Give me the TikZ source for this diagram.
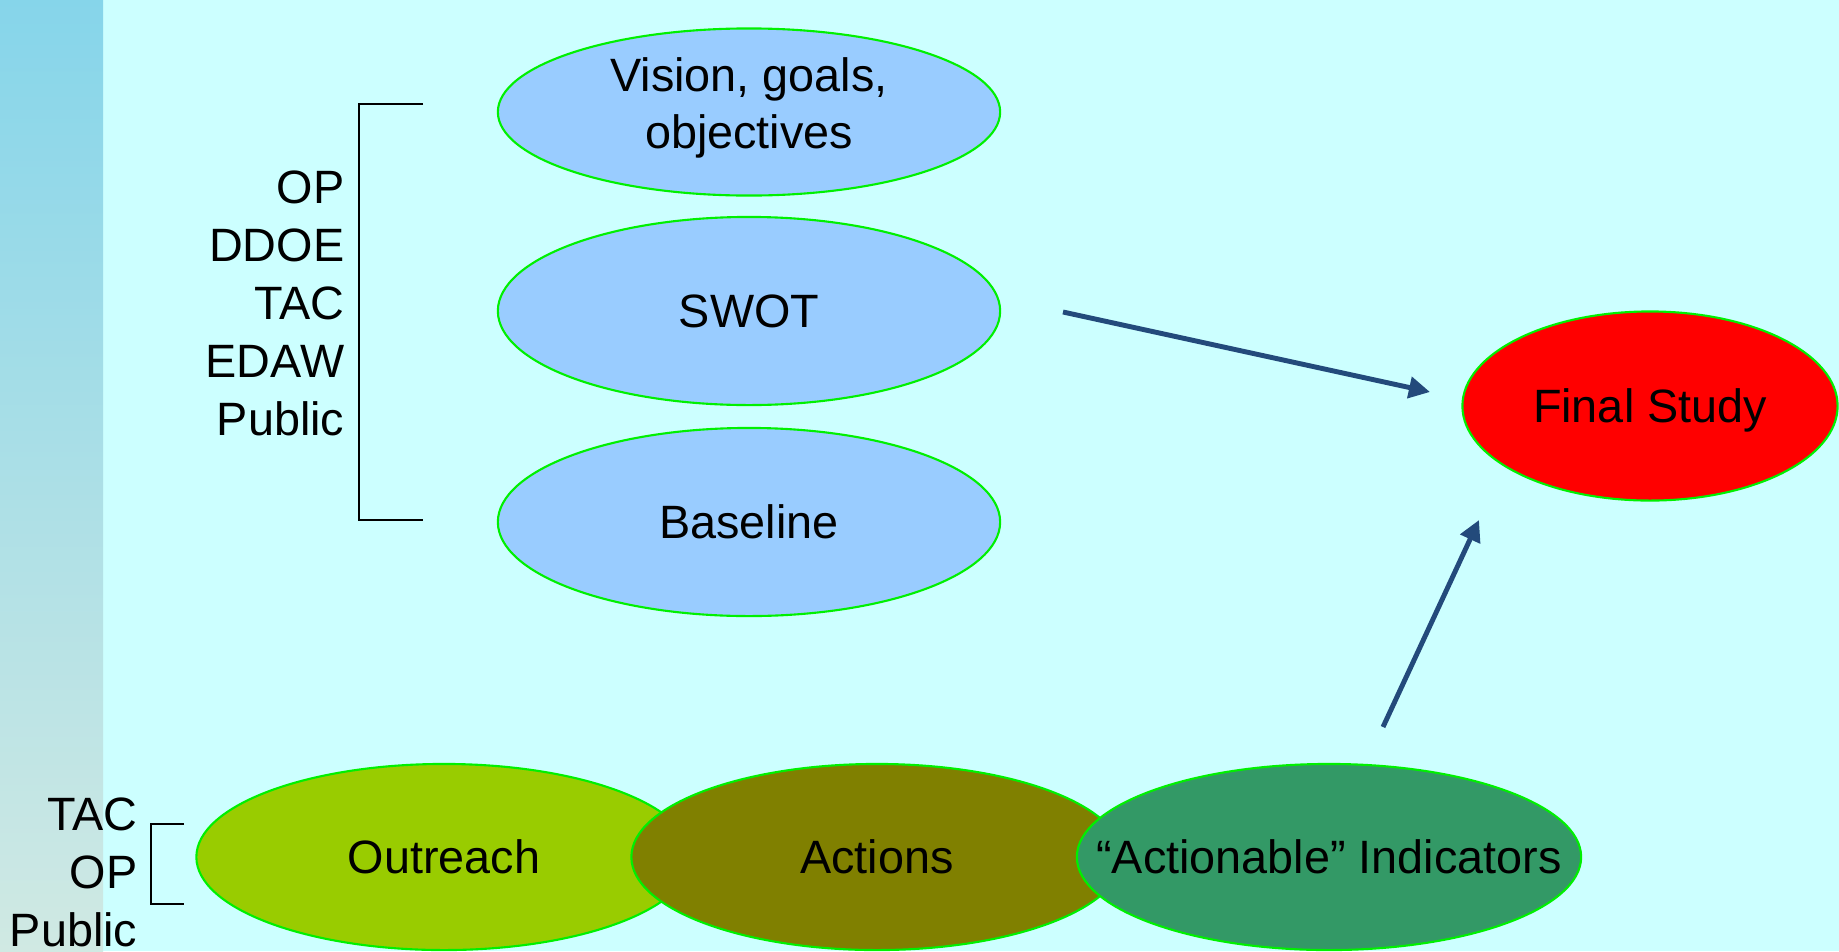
\documentclass[tikz,border=0pt]{standalone}
\usepackage{fontspec}
\setmainfont{Liberation Sans}
\usepackage{xcolor}
\usetikzlibrary{shapes.geometric,arrows.meta}
\definecolor{bgcyan}{HTML}{CCFFFF}
\definecolor{striptop}{HTML}{86D5EA}
\definecolor{stripbot}{HTML}{D0E9E3}
\definecolor{rimgreen}{HTML}{00F000}
\definecolor{skyblue}{HTML}{99CCFF}
\definecolor{limegreen}{HTML}{99CC00}
\definecolor{olivebrown}{HTML}{808000}
\definecolor{seagreen}{HTML}{339966}
\definecolor{arrowblue}{HTML}{234A7B}

\begin{document}
\begin{tikzpicture}[x=0.01cm,y=-0.01cm,
    blob/.style={ellipse,draw=rimgreen,line width=0.6pt,inner sep=0pt},
    txt/.style={font=\fontsize{13.3}{16.5}\selectfont,inner sep=0pt},
    lab/.style={txt,text depth=0pt},
    link/.style={-{Triangle[length=6pt,width=6pt]},line width=1.4pt,arrowblue}]
    \useasboundingbox (0,0) rectangle (1839,951);
    \fill[bgcyan] (0,0) rectangle (1839,951);
    \shade[top color=striptop,bottom color=stripbot] (0,0) rectangle (103,951);

    \node[blob,fill=skyblue,minimum width=5.02cm,minimum height=1.67cm,
      label={[txt,align=center,font=\fontsize{13.3}{16}\selectfont,yshift=1.2pt]center:Vision, goals,\\objectives}] (vis) at (749,112) {};
    \node[blob,fill=skyblue,minimum width=5.02cm,minimum height=1.88cm,
      label={[lab]center:SWOT}] (swot) at (749,311) {};
    \node[blob,fill=skyblue,minimum width=5.02cm,minimum height=1.88cm,
      label={[lab]center:Baseline}] (base) at (749,522) {};
    \node[blob,fill=red,minimum width=3.75cm,minimum height=1.89cm,
      label={[lab]center:Final Study}] (final) at (1650,406) {};

    \node[blob,fill=limegreen,minimum width=4.95cm,minimum height=1.86cm,
      label={[lab]center:Outreach}] (out) at (444,857) {};
    \node[blob,fill=olivebrown,minimum width=4.91cm,minimum height=1.86cm,
      label={[lab]center:Actions}] (act) at (877,857) {};
    \node[blob,fill=seagreen,minimum width=5.04cm,minimum height=1.86cm,
      label={[lab]center:“Actionable” Indicators}] (ind) at (1329,857) {};

    \node[txt,align=right,anchor=north east] (who) at (345,170) {OP\\DDOE\\TAC\\EDAW\\Public};
    \draw[line width=0.5pt] (423,104) -| (359,520) -- (423,520);
    \node[txt,align=right,anchor=north east] (who2) at (138,797) {TAC\\OP\\Public};
    \draw[line width=0.5pt] (184,824) -| (151,904) -- (184,904);

    \coordinate (s1) at (1063,312);
    \coordinate (e1) at (1430,392);
    \coordinate (s2) at (1383,727);
    \coordinate (e2) at (1479,520);
    \draw[link] (s1) -- (e1);
    \draw[link] (s2) -- (e2);
\end{tikzpicture}
\end{document}
